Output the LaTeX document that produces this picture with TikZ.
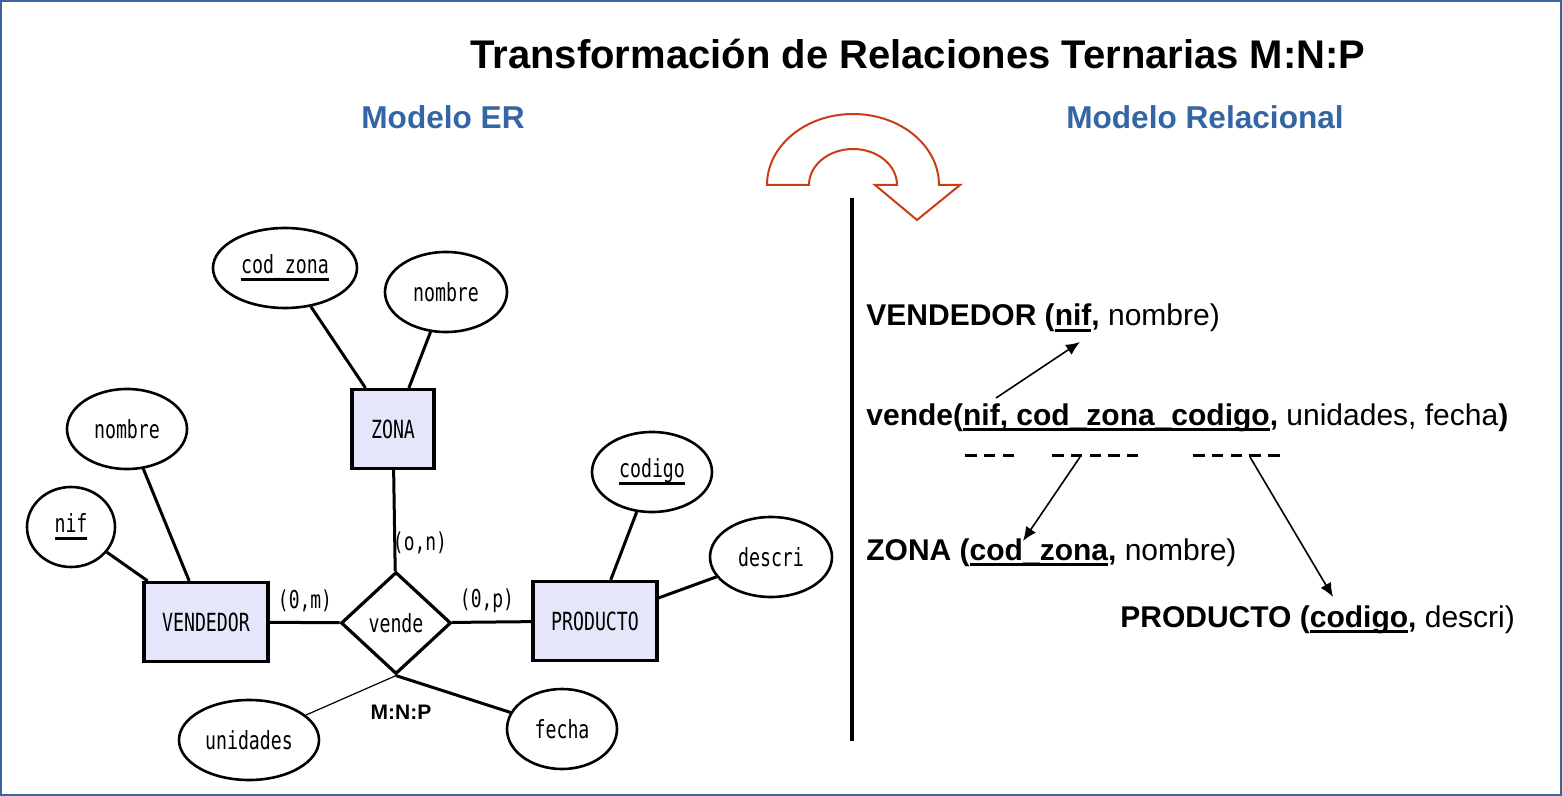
\documentclass[tikz,border=0pt]{standalone}
\usepackage{fontspec}
\setmainfont{Liberation Sans}
\newfontfamily\erfont[FakeStretch=0.73]{DejaVu Sans Mono}
\usetikzlibrary{arrows.meta,shapes.geometric}
\definecolor{erlila}{RGB}{230,230,250}
\definecolor{subblue}{RGB}{52,101,164}
\definecolor{curvorange}{RGB}{204,60,20}
\definecolor{frameblue}{RGB}{60,100,160}
\newcommand{\erkey}[1]{\sbox0{#1}\usebox0\llap{\rule[-3.5pt]{\wd0}{1.5pt}}}
\newcommand{\relkey}[1]{\sbox0{#1}\usebox0\llap{\rule[-2.9pt]{\wd0}{1.2pt}}}

\begin{document}
\begin{tikzpicture}[x=0.5pt,y=-0.5pt,>=Latex,
  entidad/.style={draw,line width=1.6pt,fill=erlila,font=\erfont\fontsize{12.5}{14}\selectfont,minimum width=41pt,minimum height=39.5pt,inner sep=0pt},
  atrib/.style={draw,ellipse,line width=1.3pt,font=\erfont\fontsize{12.5}{14}\selectfont,minimum height=40pt,inner sep=0pt},
  relac/.style={draw,diamond,line width=1.6pt,font=\erfont\fontsize{12.5}{14}\selectfont,minimum width=55pt,minimum height=51pt,inner sep=0pt},
  card/.style={font=\erfont\fontsize{12.3}{14}\selectfont,inner sep=0pt},
  enlace/.style={line width=1.5pt},
  subtit/.style={anchor=base,text=subblue,font=\bfseries\fontsize{15.8}{18}\selectfont},
  tabla/.style={anchor=base west,inner sep=0pt,font=\fontsize{15}{18}\selectfont},
  clave/.style={line width=1.5pt,dash pattern=on 5.8pt off 3.6pt},
  flecha/.style={->,line width=0.8pt,>={Latex[length=7pt,width=6pt]}}]
\useasboundingbox (0,0) rectangle (1562,796);
\draw[frameblue,line width=1pt] (1,1) rectangle (1561,795);

\node[anchor=base,font=\bfseries\fontsize{20}{23}\selectfont] (titulo) at (918,69) {Transformación de Relaciones Ternarias M:N:P};
\node[subtit] (mer) at (443,129) {Modelo ER};
\node[subtit] (mrel) at (1205,129) {Modelo Relacional};

\draw[curvorange,line width=1pt,fill=white] (767,185) arc[start angle=180,end angle=0,x radius=43pt,y radius=35.5pt]
  -- (960,185) -- (917,220) -- (875,185) -- (897,185)
  arc[start angle=0,end angle=180,x radius=22pt,y radius=18pt] -- cycle;
\draw[line width=2pt] (852,198) -- (852,741);

\node[entidad] (zona) at (393,429) {ZONA};
\node[entidad,minimum width=62pt] (vendedor) at (206,622) {VENDEDOR};
\node[entidad,minimum width=62pt] (producto) at (595,621) {PRODUCTO};
\node[relac] (vende) at (396,623) {vende};
\node[atrib,minimum width=72pt] (czona) at (285,268) {\erkey{cod\_zona}};
\node[atrib,minimum width=61pt] (nzona) at (446,292) {nombre};
\node[atrib,minimum width=60pt] (nvend) at (127,429) {nombre};
\node[atrib,minimum width=44pt] (nif) at (71,527) {\erkey{nif}};
\node[atrib,minimum width=60pt] (codigo) at (652,472) {\erkey{codigo}};
\node[atrib,minimum width=61pt] (descri) at (771,557) {descri};
\node[atrib,minimum width=70pt] (unidades) at (249,740) {unidades};
\node[atrib,minimum width=55pt] (fecha) at (562,729) {fecha};
\node[card] (cn) at (420,543) {(o,n)};
\node[card] (cm) at (305,601) {(0,m)};
\node[card] (cp) at (487,601) {(0,p)};
\node[font=\bfseries\fontsize{10.5}{12}\selectfont] (mnp) at (401,712) {M:N:P};

\draw[enlace] (czona) -- (zona);
\draw[enlace] (nzona) -- (zona);
\draw[enlace] (zona) -- (vende);
\draw[enlace] (nvend) -- (vendedor);
\draw[enlace] (nif) -- (vendedor);
\draw[enlace] (vendedor) -- (vende);
\draw[enlace] (vende) -- (producto);
\draw[enlace] (codigo) -- (producto);
\draw[enlace] (descri) -- (producto);
\draw[line width=0.6pt] (vende.south) -- (unidades);
\draw[enlace] (vende.south) -- (fecha);

\node[tabla] (tvend) at (866,326) {\textbf{VENDEDOR (\relkey{nif},} nombre)};
\node[tabla] (tvende) at (866,425) {\textbf{vende(\relkey{nif, cod\_zona\_codigo},} unidades, fecha\textbf{)}};
\node[tabla] (tzona) at (866,560) {\textbf{ZONA (\relkey{cod\_zona},} nombre)};
\node[tabla] (tprod) at (1120,627) {\textbf{PRODUCTO (\relkey{codigo},} descri)};

\coordinate (d1a) at (965,455);
\coordinate (d1b) at (1018,455);
\coordinate (d2a) at (1052,455);
\coordinate (d2b) at (1138,455);
\coordinate (d3a) at (1193,455);
\coordinate (d3b) at (1280,455);
\draw[clave] (d1a) -- (d1b);
\draw[clave] (d2a) -- (d2b);
\draw[clave] (d3a) -- (d3b);

\coordinate (a1s) at (996,398);
\coordinate (a1t) at (1080,342);
\coordinate (a2s) at (1080,457);
\coordinate (a2t) at (1023,541);
\coordinate (a3s) at (1250,457);
\coordinate (a3t) at (1333,597);
\draw[flecha] (a1s) -- (a1t);
\draw[flecha] (a2s) -- (a2t);
\draw[flecha] (a3s) -- (a3t);
\end{tikzpicture}
\end{document}
